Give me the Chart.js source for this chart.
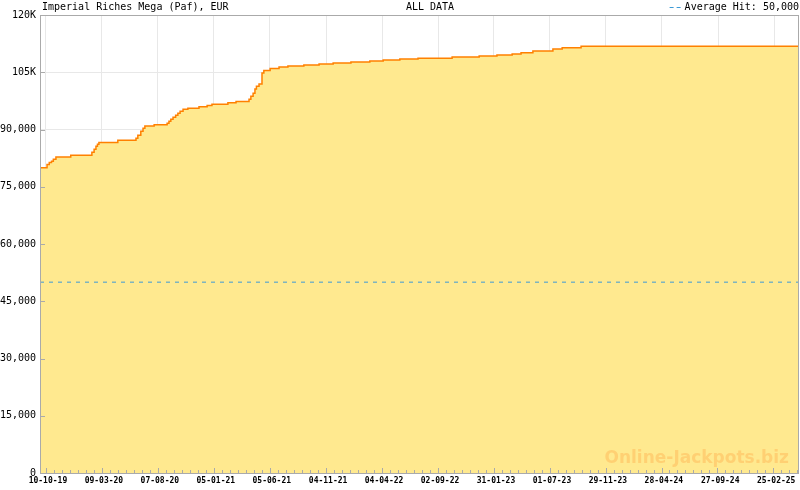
<!DOCTYPE html>
<html>
<head>
<meta charset="utf-8">
<script src="https://cdn.jsdelivr.net/npm/chart.js@4.4.1/dist/chart.umd.min.js"></script>
<style>
  body { margin: 0; background: #fff; }
  canvas { display: block; }
</style>
</head>
<body>
<canvas id="chart" width="800" height="490"></canvas>
<script>
// Jackpot history (step start dates, value in EUR)
var dates = [
  '2019-09-24', '2019-10-13', '2019-10-19', '2019-10-25', '2019-10-30', '2019-11-06',
  '2019-12-16', '2020-02-11', '2020-02-17', '2020-02-22', '2020-02-26', '2020-03-01',
  '2020-04-21', '2020-06-09', '2020-06-14', '2020-06-22', '2020-06-28', '2020-07-03',
  '2020-07-28', '2020-09-01', '2020-09-06', '2020-09-11', '2020-09-17', '2020-09-24',
  '2020-09-30', '2020-10-06', '2020-10-14', '2020-10-27', '2020-11-26', '2020-12-18',
  '2020-12-31', '2021-02-12', '2021-03-06', '2021-04-10', '2021-04-15', '2021-04-21',
  '2021-04-26', '2021-04-30', '2021-05-07', '2021-05-15', '2021-05-20', '2021-06-06',
  '2021-06-30', '2021-07-24', '2021-09-05', '2021-10-16', '2021-11-23', '2022-01-10',
  '2022-03-02', '2022-04-07', '2022-05-22', '2022-07-10', '2022-10-10', '2022-12-22',
  '2023-02-08', '2023-03-21', '2023-04-14', '2023-05-16', '2023-07-09', '2023-08-03',
  '2023-09-23', '2025-05-03'
];
var jackpot = [
  80000, 80800, 81330, 81670, 82190, 82800,
  83240, 84030, 84820, 85600, 86130, 86580,
  87180, 87710, 88500, 89550, 90340, 90940,
  91250, 91650, 92170, 92700, 93220, 93750,
  94270, 94800, 95320, 95590, 95940, 96290,
  96630, 96980, 97330, 97950, 98740, 99530,
  100580, 101360, 101890, 104780, 105490, 106010,
  106350, 106620, 106880, 107140, 107410, 107670,
  107930, 108190, 108460, 108700, 108980, 109240,
  109500, 109770, 110110, 110560, 111080, 111420,
  111790, 111790
];

var averageHit = 50000;
var tickLabels = ['10-10-19', '09-03-20', '07-08-20', '05-01-21', '05-06-21', '04-11-21', '04-04-22',
  '02-09-22', '31-01-23', '01-07-23', '29-11-23', '28-04-24', '27-09-24', '25-02-25'];
var yTicks = [0, 15000, 30000, 45000, 60000, 75000, 90000, 105000, 120000];

var titleText = 'Imperial Riches Mega (Paf), EUR';
var rangeText = 'ALL DATA';
var legendText = 'Average Hit: 50,000';
var watermark = 'Online-Jackpots.biz';

function toDay(s) {
  var p = s.split('-');
  return Date.UTC(+p[0], +p[1] - 1, +p[2]) / 86400000;
}
function labelToDay(s) {
  var p = s.split('-');
  return Date.UTC(2000 + +p[2], +p[1] - 1, +p[0]) / 86400000;
}

var tickDays = tickLabels.map(labelToDay);
var minDay = toDay(dates[0]);
var maxDay = toDay(dates[dates.length - 1]);

var points = dates.map(function (d, i) {
  return { x: toDay(d), y: jackpot[i] };
});

var mono = "'DejaVu Sans Mono', monospace";
var axisColor = '#aaaaaa';

// ticks inside the plot, frame and header texts
var decorPlugin = {
  id: 'decor',
  afterDatasetsDraw: function (chart) {
    var ctx = chart.ctx;
    var a = chart.chartArea;
    var xs = chart.scales.x;
    var ys = chart.scales.y;
    ctx.save();
    // watermark
    ctx.font = "bold 17px 'DejaVu Sans', sans-serif";
    ctx.fillStyle = '#ffd073';
    ctx.textAlign = 'right';
    ctx.textBaseline = 'alphabetic';
    ctx.fillText(watermark, a.right - 10, a.bottom - 10);

    ctx.strokeStyle = axisColor;
    ctx.lineWidth = 1;
    ctx.beginPath();
    // x ticks: majors and 7 subdivisions
    var step = (tickDays[1] - tickDays[0]) / 7;
    for (var d = tickDays[0]; d <= maxDay; d += step) {
      var k = Math.round((d - tickDays[0]) / step);
      var px = Math.round(xs.getPixelForValue(d)) + 0.5;
      var len = k % 7 === 0 ? 5 : 3;
      ctx.moveTo(px, a.bottom);
      ctx.lineTo(px, a.bottom - len);
    }
    for (var d2 = tickDays[0] - step; d2 >= minDay; d2 -= step) {
      var px2 = Math.round(xs.getPixelForValue(d2)) + 0.5;
      ctx.moveTo(px2, a.bottom);
      ctx.lineTo(px2, a.bottom - 3);
    }
    // y ticks
    yTicks.forEach(function (v) {
      var py = Math.round(ys.getPixelForValue(v)) + 0.5;
      ctx.moveTo(a.left, py);
      ctx.lineTo(a.left + 5, py);
    });
    ctx.stroke();
    // frame
    ctx.strokeRect(a.left + 0.5, a.top + 0.5, a.right - a.left - 1, a.bottom - a.top);

    // header
    ctx.fillStyle = '#000';
    ctx.font = '10px ' + mono;
    ctx.textBaseline = 'middle';
    ctx.textAlign = 'left';
    ctx.fillText(titleText, a.left + 2, 7);
    ctx.textAlign = 'center';
    ctx.fillText(rangeText, 430, 7);
    ctx.textAlign = 'right';
    ctx.fillText(legendText, 799, 7);
    var w = ctx.measureText(legendText).width;
    ctx.strokeStyle = '#3d9ad6';
    ctx.lineWidth = 1;
    ctx.setLineDash([4, 3]);
    ctx.beginPath();
    ctx.moveTo(799 - w - 15, 7.5);
    ctx.lineTo(799 - w - 2, 7.5);
    ctx.stroke();
    ctx.restore();
  }
};

var ctx = document.getElementById('chart').getContext('2d');
var chart = new Chart(ctx, {
  type: 'line',
  data: {
    datasets: [
      {
        label: 'Average Hit',
        data: [{ x: minDay, y: averageHit }, { x: maxDay, y: averageHit }],
        borderColor: '#3d9ad6',
        borderWidth: 1,
        borderDash: [4, 5],
        pointRadius: 0,
        fill: false,
        order: 0
      },
      {
        label: 'Jackpot',
        data: points,
        stepped: true,
        borderColor: '#ff8000',
        borderWidth: 1.5,
        backgroundColor: '#ffe98f',
        fill: 'origin',
        pointRadius: 0,
        order: 1
      }
    ]
  },
  options: {
    responsive: false,
    animation: false,
    devicePixelRatio: 1,
    layout: { padding: { top: 15, right: 1, left: 0, bottom: 0 } },
    plugins: {
      legend: { display: false },
      tooltip: { enabled: false }
    },
    scales: {
      x: {
        type: 'linear',
        min: minDay,
        max: maxDay,
        afterBuildTicks: function (scale) {
          scale.ticks = tickDays.map(function (v) { return { value: v }; });
        },
        afterFit: function (scale) { scale.height = 17; },
        grid: { color: '#e8e8e8', drawTicks: false },
        border: { display: false },
        ticks: {
          autoSkip: false,
          maxRotation: 0,
          padding: 3,
          labelOffset: 2,
          color: '#000',
          font: { family: mono, size: 8, weight: 'bold' },
          callback: function (v) {
            var i = tickDays.indexOf(v);
            return i >= 0 ? tickLabels[i] : '';
          }
        }
      },
      y: {
        min: 0,
        max: 120000,
        afterBuildTicks: function (scale) {
          scale.ticks = yTicks.map(function (v) { return { value: v }; });
        },
        afterFit: function (scale) { scale.width = 40; },
        grid: { color: '#e8e8e8', drawTicks: false },
        border: { display: false },
        ticks: {
          padding: 4,
          color: '#000',
          font: { family: mono, size: 10 },
          callback: function (v) {
            if (v >= 100000) return (v / 1000) + 'K';
            return v.toLocaleString('en-US');
          }
        }
      }
    }
  },
  plugins: [decorPlugin]
});
</script>
</body>
</html>
